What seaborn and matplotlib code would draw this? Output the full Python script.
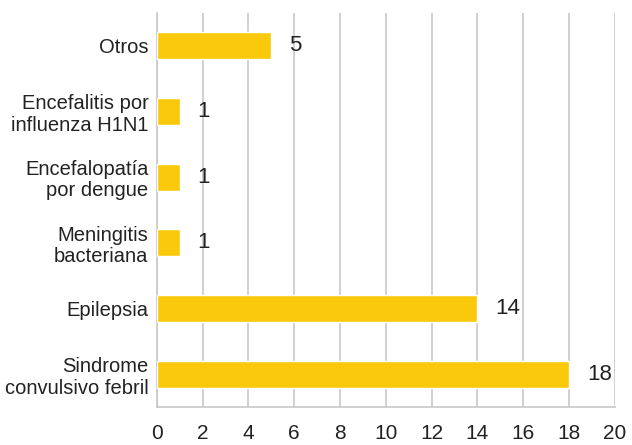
import matplotlib.pyplot as plt
import seaborn as sns
import pandas as pd

causas = ["Otros", "Encefalitis por\ninfluenza H1N1", "Encefalopatía\npor dengue",
          "Meningitis\nbacteriana", "Epilepsia", "Sindrome\nconvulsivo febril"]
casos = [5, 1, 1, 1, 14, 18]
ticks = list(range(0, 21, 2))

df = pd.DataFrame({"causa": causas, "casos": casos})

sns.set_style("white")
plt.rcParams['font.family'] = ['Liberation Sans', 'DejaVu Sans']

fig = plt.figure(figsize=(6.32, 4.45), dpi=100)
ax = fig.add_axes([0.248, 0.085, 0.725, 0.886])

sns.barplot(data=df, y="causa", x="casos", orient="h", color="#FBC90B",
            width=0.41, saturation=1, ax=ax, zorder=3)

ax.bar_label(ax.containers[0], padding=13, fontsize=16, color="#222222")

ax.set_xlim(0, 20)
ax.set_ylim(5.5, -0.5)
ax.set_xticks(ticks)
ax.set_xlabel("")
ax.set_ylabel("")
ax.grid(axis="x", color="#C8C8C8", linewidth=1.2, zorder=0)
for s in ["top", "right"]:
    ax.spines[s].set_visible(False)
for s in ["left", "bottom"]:
    ax.spines[s].set_color("#C8C8C8")
    ax.spines[s].set_linewidth(1.2)
ax.tick_params(axis="x", length=0, labelsize=15, colors="#222222", pad=12)
ax.tick_params(axis="y", length=0, labelsize=14.5, colors="#222222", pad=6)
for lbl in ax.get_yticklabels():
    lbl.set_horizontalalignment("right")
    lbl.set_linespacing(1.15)

fig.savefig("out.png", dpi=100)
